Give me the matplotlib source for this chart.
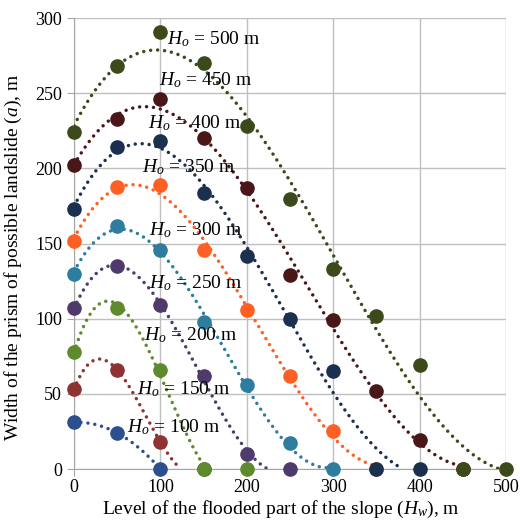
import numpy as np
import matplotlib.pyplot as plt

plt.rcParams["font.family"] = ["Liberation Serif", "DejaVu Serif"]
plt.rcParams["mathtext.fontset"] = "custom"
plt.rcParams["mathtext.rm"] = "Liberation Serif"
plt.rcParams["mathtext.it"] = "Liberation Serif:italic"

# slope height H_o and width of the prism a at flooded level H_w = 0, 50, 100, ...
heights = [100, 150, 200, 250, 300, 350, 400, 450, 500]
widths = {
    100: [31, 24, 0],
    150: [53, 66, 18, 0],
    200: [78, 107, 66, 0, 0],
    250: [107, 135, 109, 62, 10, 0],
    300: [130, 162, 146, 98, 56, 17, 0],
    350: [152, 188, 189, 146, 106, 62, 25, 0],
    400: [173, 214, 218, 184, 142, 100, 65, 0, 0],
    450: [202, 233, 246, 220, 187, 129, 99, 52, 19, 0],
    500: [224, 268, 291, 270, 228, 180, 133, 102, 69, 0, 0],
}
colors = ["#2C4F8E", "#8E3232", "#5E8A2E", "#4E3B6B", "#2E7C9E",
          "#FF5F22", "#1B2F4E", "#4A1719", "#3C4A1B"]
label_pos = [(61, 28), (73, 53), (81, 89), (87, 124), (87, 159),
             (79, 201), (86, 230), (98, 259), (108, 286)]

fig = plt.figure(figsize=(5.2, 5.2), dpi=100)
ax = fig.add_axes([0.1423, 0.098, 0.8308, 0.867])

for h, c, (lx, ly) in zip(heights, colors, label_pos):
    y = np.array(widths[h], dtype=float)
    x = np.arange(len(y)) * 50.0
    deg = min(3, len(y) - 1)
    coef = np.polyfit(x, y, deg)
    xs = np.linspace(0, x[-1], 300)
    ys = np.polyval(coef, xs)
    ys[ys < 0] = np.nan
    ax.plot(xs, ys, color=c, lw=2.5, linestyle=(0, (0.01, 2.0)),
            dash_capstyle="round", zorder=3)
    ax.plot(x, y, "o", color=c, ms=9.5, clip_on=False, zorder=4)
    ax.text(lx, ly, f"$H_o$ = {h} m", fontsize=14, va="center", ha="left", zorder=5)

ax.set_xlim(0, 500)
ax.set_ylim(0, 300)
ax.set_xticks(range(0, 501, 100))
ax.set_yticks(range(0, 301, 50))
ax.grid(True, color="#BFBFBF", lw=1)
ax.set_axisbelow(True)
for s in ["top", "right"]:
    ax.spines[s].set_visible(False)
for s in ["left", "bottom"]:
    ax.spines[s].set_color("#A6A6A6")
ax.tick_params(colors="#A6A6A6", labelcolor="black", labelsize=13, length=5)
ax.tick_params(axis="x", pad=2)
ax.set_xlabel("Level of the flooded part of the slope ($H_w$), m", fontsize=14)
ax.set_ylabel("Width of the prism of possible landslide ($a$), m", fontsize=14)
ax.xaxis.set_label_coords(0.48, -0.066)
ax.yaxis.set_label_coords(-0.115, 0.47)

fig.savefig("out.png", dpi=100)
